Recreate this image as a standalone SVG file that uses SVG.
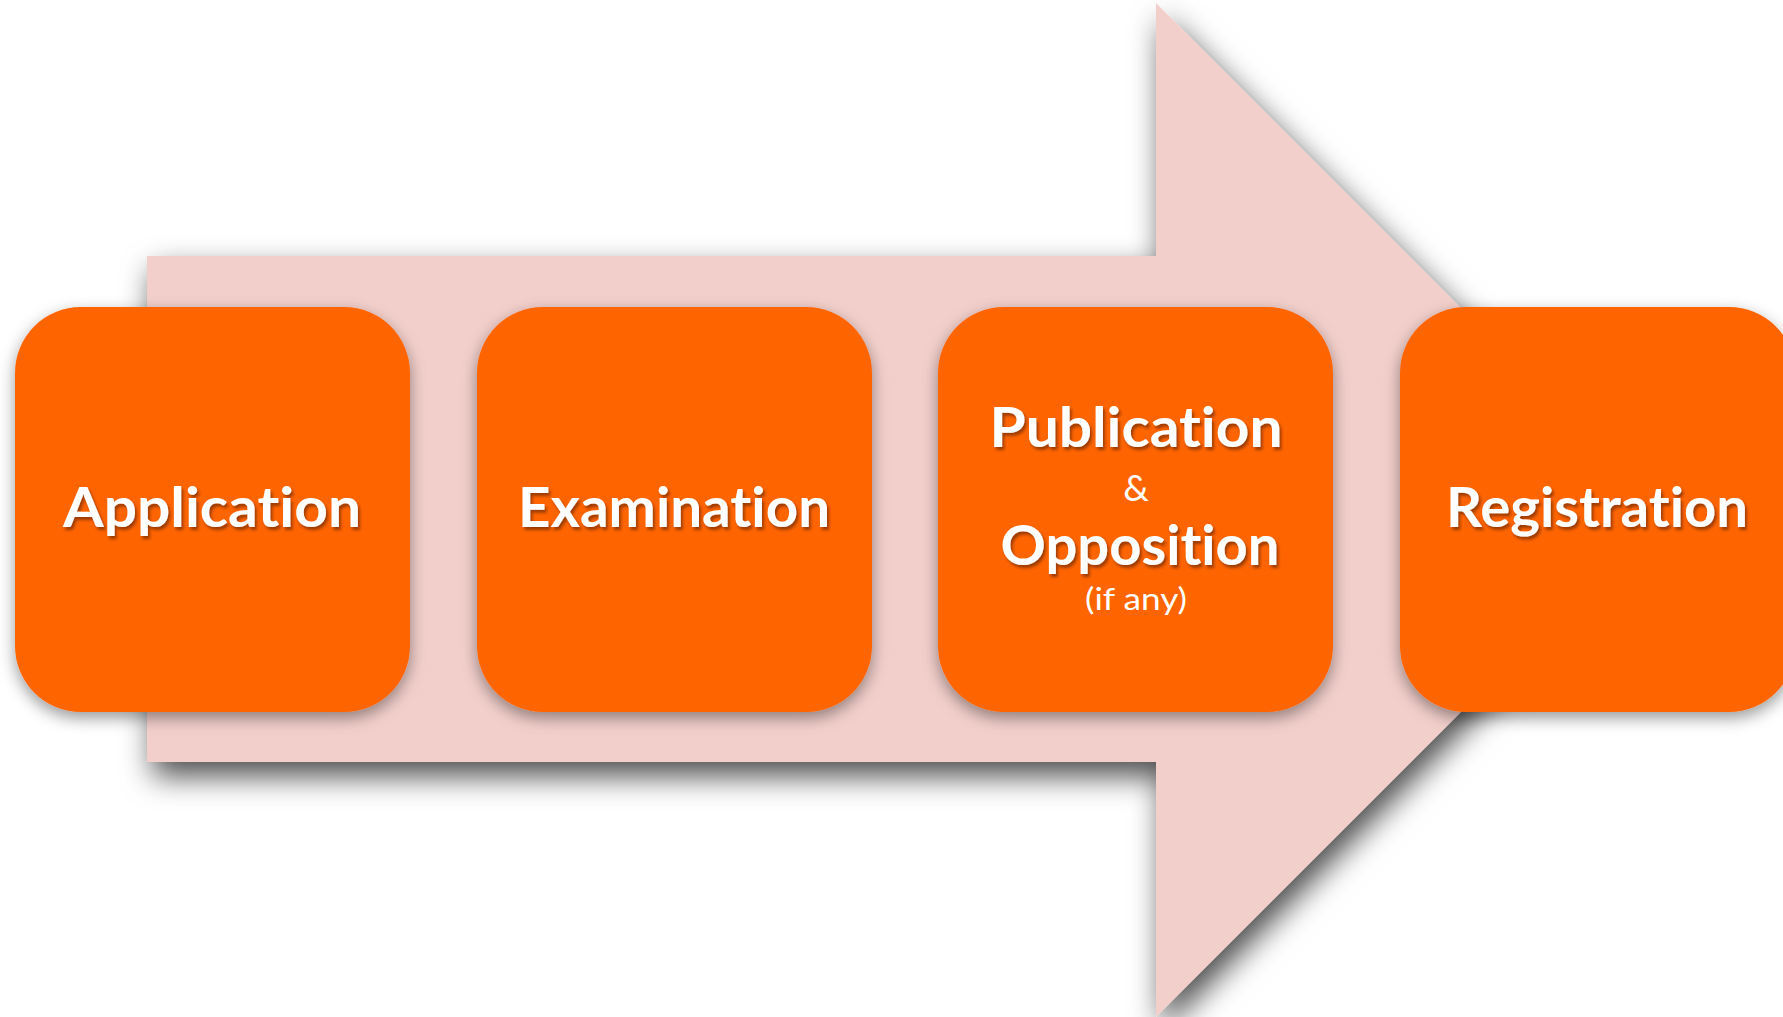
<svg xmlns="http://www.w3.org/2000/svg" width="1783" height="1017" viewBox="0 0 1783 1017">
  <style>
    .box { fill: #FE6500; filter: url(#boxShadow); }
    .lbl { font-family: Lato, "Open Sans", "Liberation Sans", sans-serif; font-weight: 700; fill: #FFFFFF; text-anchor: middle; filter: url(#textShadow); font-variant-ligatures: none; font-feature-settings: "liga" 0, "clig" 0; }
    .small { font-family: Lato, "Open Sans", "Liberation Sans", sans-serif; font-weight: 400; fill: #FFFFFF; text-anchor: middle; font-variant-ligatures: none; }
  </style>
  <defs>
    <filter id="arrowShadow" x="-10%" y="-10%" width="125%" height="125%">
      <feDropShadow dx="6" dy="14" stdDeviation="15" flood-color="#000" flood-opacity="0.7"/>
    </filter>
    <filter id="boxShadow" x="-15%" y="-15%" width="130%" height="135%">
      <feDropShadow dx="0" dy="6" stdDeviation="8" flood-color="#000" flood-opacity="0.4"/>
    </filter>
    <filter id="textShadow" x="-10%" y="-30%" width="120%" height="160%">
      <feDropShadow dx="2" dy="3" stdDeviation="1.5" flood-color="#5a2000" flood-opacity="0.6"/>
    </filter>
  </defs>
  <rect width="1783" height="1017" fill="#FFFFFF"/>
  <g id="connectors">
    <polygon id="process-arrow" points="147,256 1156,256 1156,3 1663,510 1156,1017 1156,762 147,762" fill="#F2CFCB" filter="url(#arrowShadow)"/>
  </g>
  <g id="node-application">
    <rect class="box" x="15" y="307" width="395" height="405" rx="66" ry="66"/>
    <text class="lbl" x="212" y="527" font-size="56" textLength="298" lengthAdjust="spacingAndGlyphs">Application</text>
  </g>
  <g id="node-examination">
    <rect class="box" x="477" y="307" width="395" height="405" rx="66" ry="66"/>
    <text class="lbl" x="674" y="527" font-size="56" textLength="312" lengthAdjust="spacingAndGlyphs">Examination</text>
  </g>
  <g id="node-publication">
    <rect class="box" x="938" y="307" width="395" height="405" rx="66" ry="66"/>
    <text class="lbl" x="1136" y="447" font-size="56" textLength="293" lengthAdjust="spacingAndGlyphs">Publication</text>
    <text class="small" x="1136" y="501" font-size="36">&amp;</text>
    <text class="lbl" x="1140" y="565" font-size="56" textLength="279" lengthAdjust="spacingAndGlyphs">Opposition</text>
    <text class="small" x="1136" y="610" font-size="31" textLength="102" lengthAdjust="spacingAndGlyphs">(if any)</text>
  </g>
  <g id="node-registration">
    <rect class="box" x="1400" y="307" width="395" height="405" rx="66" ry="66"/>
    <text class="lbl" x="1597" y="527" font-size="56" textLength="302" lengthAdjust="spacingAndGlyphs">Registration</text>
  </g>
</svg>
